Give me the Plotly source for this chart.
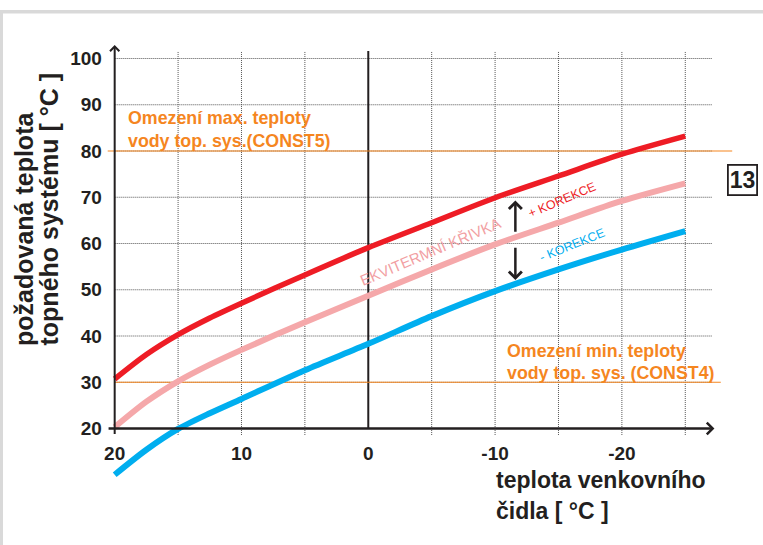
import plotly.graph_objects as go

# Outdoor sensor temperature (°C) at which the heating curves are sampled
outdoor_temp = [20, 17.5, 15, 12.5, 10, 5, 0, -5, -10, -15, -20, -25]
# Required heating-water temperature (°C)
curve_plus = [30.7, 36.0, 40.3, 43.9, 47.1, 53.2, 59.1, 64.5, 69.9, 74.6, 79.3, 83.2]
curve_base = [20.3, 25.8, 30.2, 33.8, 37.0, 43.0, 48.7, 54.4, 59.8, 64.5, 69.2, 73.0]
curve_minus = [10.0, 15.4, 19.9, 23.3, 26.4, 32.6, 38.3, 44.3, 49.7, 54.4, 58.7, 62.7]

y_ticks = [20, 30, 40, 50, 60, 70, 80, 90, 100]
x_ticks = [20, 10, 0, -10, -20]
x_grid = [15, 10, 5, -5, -10, -15, -20, -25]

t_max = 80   # CONST5
t_min = 30   # CONST4

# correction arrows (outdoor temp, from, to)
arrow_x = -11.6
arrow_up = (62.2, 69.3)
arrow_down = (59.4, 52.1)

W, H = 763, 545
ML, MR, MT, MB = 102, 27, 40, 61
X_RANGE = [21, -29]
Y_RANGE = [8, 104]
X_END = -27.3
Y_END = 102.9


def px_x(p):
    return (p - ML) / (W - ML - MR)


def px_y(p):
    return 1 - (p - MT) / (H - MT - MB)


RED = "#EE1C25"
PINK = "#F5A8AA"
BLUE = "#00AEEF"
ORANGE = "#F5861F"
INK = "#231F20"
FONT = "Liberation Sans"

fig = go.Figure()

for vals, col, w in [(curve_base, PINK, 6), (curve_minus, BLUE, 6), (curve_plus, RED, 5.5)]:
    fig.add_trace(go.Scatter(
        x=outdoor_temp, y=vals, mode="lines",
        line=dict(color=col, width=w, shape="spline", smoothing=0.8),
        hoverinfo="skip", showlegend=False,
    ))

shapes = []
# dotted grid
for yv in y_ticks[1:]:
    shapes.append(dict(type="line", xref="x", yref="y", x0=20, x1=-27.1, y0=yv, y1=yv,
                       line=dict(color="#555555", width=1, dash="1px,1px"), layer="below"))
for xv in x_grid:
    shapes.append(dict(type="line", xref="x", yref="y", x0=xv, x1=xv, y0=18.6, y1=101.6,
                       line=dict(color="#555555", width=1, dash="1px,1px"), layer="below"))
# solid line at 0 °C outdoor
shapes.append(dict(type="line", xref="x", yref="y", x0=0, x1=0, y0=20, y1=101.6,
                   line=dict(color=INK, width=2), layer="below"))
# limit lines
shapes.append(dict(type="line", xref="x", yref="y", x0=20.55, x1=-28.7, y0=t_max, y1=t_max,
                   line=dict(color=ORANGE, width=1.2), layer="below"))
shapes.append(dict(type="line", xref="x", yref="y", x0=20, x1=-27.8, y0=t_min, y1=t_min,
                   line=dict(color=ORANGE, width=1.2), layer="below"))
# page frame
shapes.append(dict(type="rect", xref="paper", yref="paper",
                   x0=px_x(0), x1=px_x(W), y0=px_y(13.5), y1=px_y(10),
                   fillcolor="#D9D9D9", line=dict(width=0)))
shapes.append(dict(type="rect", xref="paper", yref="paper",
                   x0=px_x(0), x1=px_x(3), y0=px_y(H), y1=px_y(10),
                   fillcolor="#D9D9D9", line=dict(width=0)))

ann = []
# axes with arrowheads
ann.append(dict(x=20, y=Y_END, ax=20, ay=18.5, xref="x", yref="y", axref="x", ayref="y",
                text="", showarrow=True, arrowhead=4, arrowsize=0.9, arrowwidth=2, arrowcolor=INK))
ann.append(dict(x=X_END, y=20, ax=20.6, ay=20, xref="x", yref="y", axref="x", ayref="y",
                text="", showarrow=True, arrowhead=4, arrowsize=0.9, arrowwidth=2.5, arrowcolor=INK))
# correction arrows
ann.append(dict(x=arrow_x, y=arrow_up[1], ax=arrow_x, ay=arrow_up[0], xref="x", yref="y",
                axref="x", ayref="y", text="", showarrow=True, arrowhead=4, arrowsize=1,
                arrowwidth=2.5, arrowcolor=INK))
ann.append(dict(x=arrow_x, y=arrow_down[1], ax=arrow_x, ay=arrow_down[0], xref="x", yref="y",
                axref="x", ayref="y", text="", showarrow=True, arrowhead=4, arrowsize=1,
                arrowwidth=2.5, arrowcolor=INK))

# curve labels
ann.append(dict(x=-4.9, y=58.2, xref="x", yref="y", text="EKVITERMNÍ KŘIVKA", showarrow=False,
                textangle=-23, font=dict(family=FONT, size=15, color="#F29FA3")))
ann.append(dict(x=-15.3, y=69.4, xref="x", yref="y", text="+ KOREKCE", showarrow=False,
                textangle=-23, font=dict(family=FONT, size=12.5, color=RED)))
ann.append(dict(x=-16.1, y=59.6, xref="x", yref="y", text="- KOREKCE", showarrow=False,
                textangle=-22, font=dict(family=FONT, size=12.5, color=BLUE)))


def text_at(txt, x, y, size, color=INK, xanchor="left", angle=0, yanchor="middle"):
    ann.append(dict(x=px_x(x), y=px_y(y), xref="paper", yref="paper", text=txt,
                    showarrow=False, xanchor=xanchor, yanchor=yanchor, textangle=angle,
                    font=dict(family=FONT, size=size, color=color, weight="bold")))


text_at("Omezení max. teploty", 126, 118, 17.8, ORANGE)
text_at("vody top. sys.(CONST5)", 126, 141, 17.8, ORANGE)
text_at("Omezení min. teploty", 505, 351, 17.8, ORANGE)
text_at("vody top. sys. (CONST4)", 505, 373, 17.8, ORANGE)

text_at("teplota venkovního", 494, 480, 23)
text_at("čidla [ °C ]", 494, 511, 23)
text_at("požadovaná teplota", 24, 348, 25, angle=-90, xanchor="center", yanchor="bottom")
text_at("topného systému [ °C ]", 48, 348, 25, angle=-90, xanchor="center", yanchor="bottom")

ann.append(dict(x=px_x(742), y=px_y(179.5), xref="paper", yref="paper", text="<b>13</b>",
                showarrow=False, xanchor="center", yanchor="middle",
                bordercolor=INK, borderwidth=1.8, borderpad=1, bgcolor="white",
                font=dict(family=FONT, size=23, color=INK)))

fig.update_layout(
    width=W, height=H,
    margin=dict(l=ML, r=MR, t=MT, b=MB, autoexpand=False),
    paper_bgcolor="white", plot_bgcolor="white",
    shapes=shapes, annotations=ann,
    xaxis=dict(range=X_RANGE, tickvals=x_ticks, ticktext=[str(v) for v in x_ticks],
               showgrid=False, zeroline=False, showline=False,
               anchor="free", position=(20 - Y_RANGE[0]) / (Y_RANGE[1] - Y_RANGE[0]),
               ticks="outside", ticklen=8, tickcolor="rgba(0,0,0,0)",
               tickfont=dict(family=FONT, size=19, color=INK, weight="bold")),
    yaxis=dict(range=Y_RANGE, tickvals=y_ticks, showgrid=False, zeroline=False, showline=False,
               anchor="free", position=(X_RANGE[0] - 20) / (X_RANGE[0] - X_RANGE[1]),
               ticks="outside", ticklen=9, tickcolor="rgba(0,0,0,0)",
               tickfont=dict(family=FONT, size=19, color=INK, weight="bold")),
)

fig.write_html("out.html")
